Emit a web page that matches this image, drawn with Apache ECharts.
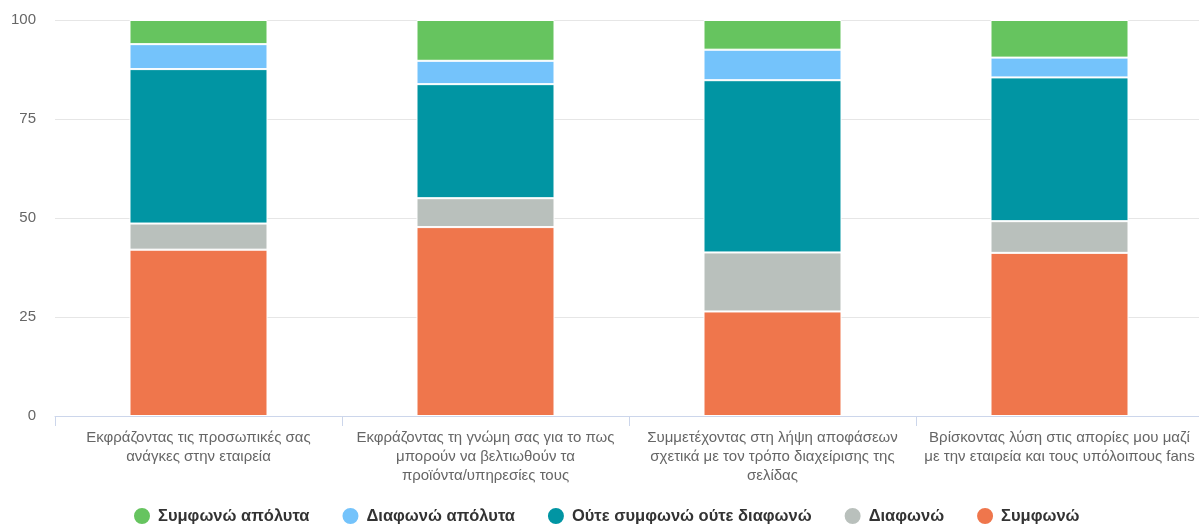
<!DOCTYPE html>
<html>
<head>
<meta charset="utf-8">
<script src="https://cdn.jsdelivr.net/npm/echarts@6/dist/echarts.min.js"></script>
<style>
  html, body { margin: 0; padding: 0; background: #fff; overflow: hidden; }
  #chart { width: 1203px; height: 527px; }
</style>
</head>
<body>
<div id="chart"></div>
<script>
// Survey statements (x-axis categories)
const categories = [
  'Εκφράζοντας τις προσωπικές σας\nανάγκες στην εταιρεία',
  'Εκφράζοντας τη γνώμη σας για το πως\nμπορούν να βελτιωθούν τα\nπροϊόντα/υπηρεσίες τους',
  'Συμμετέχοντας στη λήψη αποφάσεων\nσχετικά με τον τρόπο διαχείρισης της\nσελίδας',
  'Βρίσκοντας λύση στις απορίες μου μαζί\nμε την εταιρεία και τους υπόλοιπους fans'
];

// Percentages per answer (stacked bottom to top)
const agree            = [42.0, 47.7, 26.4, 41.2];
const disagree         = [6.6, 7.3, 14.9, 8.0];
const neutral          = [39.0, 28.8, 43.5, 36.3];
const stronglyDisagree = [6.3, 5.9, 7.7, 5.0];
const stronglyAgree    = [6.1, 10.3, 7.5, 9.5];

const yTicks = [0, 25, 50, 75, 100];

const series = [
  { name: 'Συμφωνώ', data: agree, color: '#EF764C' },
  { name: 'Διαφωνώ', data: disagree, color: '#B9C0BC' },
  { name: 'Ούτε συμφωνώ ούτε διαφωνώ', data: neutral, color: '#0195A3' },
  { name: 'Διαφωνώ απόλυτα', data: stronglyDisagree, color: '#74C3FB' },
  { name: 'Συμφωνώ απόλυτα', data: stronglyAgree, color: '#66C45F' }
];

const chart = echarts.init(document.getElementById('chart'), null, { renderer: 'canvas' });

chart.setOption({
  animation: false,
  textStyle: { fontFamily: '"Liberation Sans", Arial, sans-serif' },
  grid: { left: 55, right: 0, top: 20, bottom: 111 },
  legend: {
    bottom: 1,
    left: 132,
    padding: 0,
    itemWidth: 18,
    itemHeight: 18,
    itemGap: 31,
    icon: 'circle',
    data: ['Συμφωνώ απόλυτα', 'Διαφωνώ απόλυτα', 'Ούτε συμφωνώ ούτε διαφωνώ', 'Διαφωνώ', 'Συμφωνώ'],
    textStyle: { fontSize: 16.5, fontWeight: 'bold', color: '#333', padding: [0, 0, 0, 2] }
  },
  xAxis: {
    type: 'category',
    data: categories,
    axisLine: { lineStyle: { color: '#ccd6eb' } },
    axisTick: { show: true, alignWithLabel: false, length: 10, lineStyle: { color: '#ccd6eb' } },
    axisLabel: { color: '#666', fontSize: 15, lineHeight: 19, margin: 12, interval: 0 }
  },
  yAxis: {
    type: 'value',
    min: yTicks[0],
    max: yTicks[yTicks.length - 1],
    interval: 25,
    axisLine: { show: false },
    axisTick: { show: false },
    axisLabel: { color: '#666', fontSize: 15, margin: 19 },
    splitLine: { lineStyle: { color: '#e6e6e6' } }
  },
  series: series.map(s => ({
    name: s.name,
    type: 'bar',
    stack: 'total',
    barWidth: 138,
    data: s.data,
    itemStyle: { color: s.color, borderColor: '#fff', borderWidth: 1 }
  }))
});
</script>
</body>
</html>
